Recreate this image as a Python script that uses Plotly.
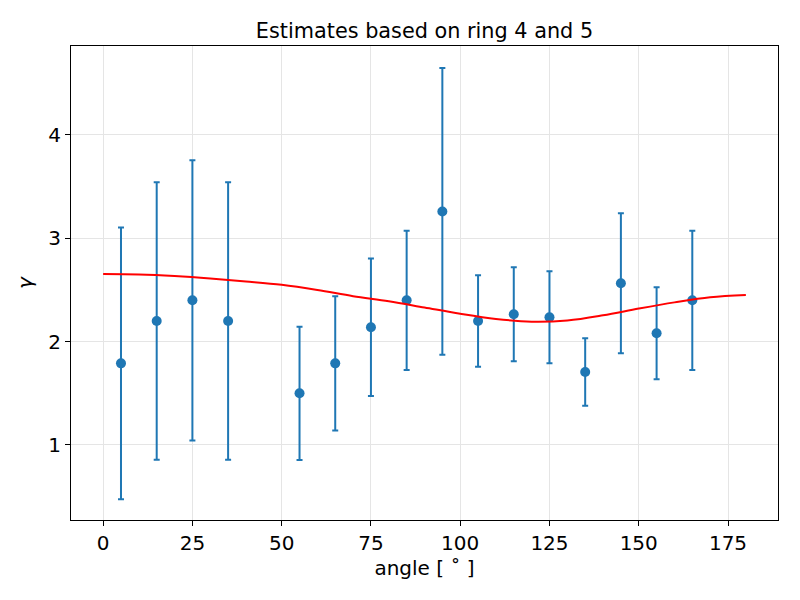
import plotly.graph_objects as go

angles = [5, 15, 25, 35, 55, 65, 75, 85, 95, 105, 115, 125, 135, 145, 155, 165]
gamma = [1.79, 2.20, 2.40, 2.20, 1.50, 1.79, 2.14, 2.40, 3.26, 2.20, 2.265, 2.236, 1.706, 2.565, 2.081, 2.40]
gamma_err = [1.315, 1.342, 1.356, 1.342, 0.645, 0.65, 0.665, 0.674, 1.388, 0.442, 0.455, 0.445, 0.327, 0.678, 0.445, 0.674]

fit_angle = [0, 10, 20, 30, 40, 50, 60, 70, 80, 90, 100, 110, 120, 130, 140, 150, 160, 170, 180]
fit_gamma = [2.655, 2.650, 2.635, 2.612, 2.583, 2.550, 2.500, 2.440, 2.390, 2.330, 2.270, 2.220, 2.193,
             2.205, 2.255, 2.320, 2.380, 2.430, 2.452]

blue = "#1f77b4"
fig = go.Figure()
fig.add_trace(go.Scatter(
    x=angles, y=gamma, mode="markers",
    marker=dict(color=blue, size=10),
    error_y=dict(type="data", array=gamma_err, visible=True, color=blue, thickness=2, width=3),
    showlegend=False,
))
fig.add_trace(go.Scatter(
    x=fit_angle, y=fit_gamma, mode="lines", line=dict(color="red", width=2, shape="spline"),
    showlegend=False,
))

axis_common = dict(
    showline=True, linecolor="black", linewidth=1, mirror=True,
    ticks="outside", ticklen=5, tickcolor="black", tickwidth=1,
    showgrid=True, gridcolor="#e5e5e5", gridwidth=1, zeroline=False,
    tickfont=dict(size=20, color="black"), automargin=False,
)
fig.update_layout(
    width=792, height=592,
    paper_bgcolor="white", plot_bgcolor="white",
    font=dict(family="DejaVu Sans", color="black"),
    margin=dict(l=63, r=22, t=38, b=80),
    title=dict(text="Estimates based on ring 4 and 5", x=0.5, xref="paper", xanchor="center",
               y=1 - 23 / 592, yanchor="middle", font=dict(size=20.8)),
    xaxis=dict(range=[-9, 189], tickvals=[0, 25, 50, 75, 100, 125, 150, 175],
               title=dict(text="angle [ ˚ ]", font=dict(size=20), standoff=6),
               **axis_common),
    yaxis=dict(range=[0.274, 4.861], tickvals=[1, 2, 3, 4],
               title=dict(text="<i>γ</i>", font=dict(size=20), standoff=10),
               **axis_common),
)
fig.write_html("out.html")
